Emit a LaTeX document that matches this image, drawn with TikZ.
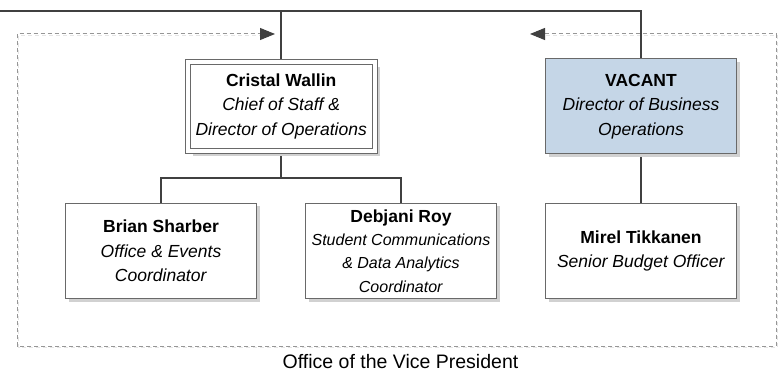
\documentclass[tikz,border=0pt]{standalone}
\usepackage{fontspec}
\setmainfont{Liberation Sans}
\usetikzlibrary{arrows.meta,shadows,backgrounds}
\definecolor{vacblue}{RGB}{197,214,231}
\definecolor{conn}{RGB}{64,64,64}
\definecolor{bord}{RGB}{105,105,105}
\definecolor{dashc}{RGB}{150,150,150}
\begin{document}
\begin{tikzpicture}[x=1pt,y=-1pt,
  box/.style={draw=bord, line width=1pt, fill=white, minimum width=191pt, minimum height=95pt,
    inner sep=0pt, align=center, font=\fontsize{17.5pt}{24.5pt}\selectfont,
    drop shadow={shadow xshift=3pt, shadow yshift=-3pt, fill=black!18, opacity=1}},
  dblbox/.style={box, double=white, double distance=4pt, minimum width=187pt, minimum height=89pt,
    drop shadow={shadow xshift=5.5pt, shadow yshift=-5.5pt, fill=black!18, opacity=1}},
  smallbox/.style={box, font=\fontsize{16pt}{23.3pt}\selectfont},
  conline/.style={draw=conn, line width=2pt},
  frameline/.style={draw=dashc, line width=1pt, dash pattern=on 4pt off 3pt},
  frameshadow/.style={draw=black!10, line width=1pt, dash pattern=on 4pt off 3pt},
  mytip/.tip={Triangle[length=15pt, width=12pt, color=conn, fill=conn]}
]
\useasboundingbox (0,0) rectangle (780,377);

% boxes
\node[dblbox] (cw) at (281.2,106.2) {\textbf{Cristal Wallin}\\\textit{Chief of Staff \&}\\\textit{Director of Operations}};
\node[box, fill=vacblue] (vac) at (641,106.5) {\textbf{VACANT}\\\textit{Director of Business}\\\textit{Operations}};
\node[box] (bs) at (161,251) {\textbf{Brian Sharber}\\\textit{Office \& Events}\\\textit{Coordinator}};
\node[smallbox] (dr) at (401,251) {{\fontsize{17.5pt}{23.3pt}\selectfont\textbf{Debjani Roy}}\\\textit{Student Communications}\\\textit{\& Data Analytics}\\\textit{Coordinator}};
\node[box] (mt) at (641,251) {\textbf{Mirel Tikkanen}\\\textit{Senior Budget Officer}};

\node[font=\fontsize{19.5pt}{22pt}\selectfont, anchor=base, inner sep=0pt] (lbl) at (400.5,368) {Office of the Vice President};

% frame coordinates
\coordinate (L) at (0,11);
\coordinate (fTL) at (17,34);
\coordinate (fBL) at (17,346);
\coordinate (fBR) at (776,346);
\coordinate (fTR) at (776,34);
\coordinate (aL) at (275,34);
\coordinate (aR) at (530,34);
\coordinate (sTL) at (18.5,35.5);
\coordinate (sBL) at (18.5,347.5);
\coordinate (sBR) at (777.5,347.5);
\coordinate (sTR) at (777.5,35.5);
\coordinate (saL) at (262,35.5);
\coordinate (saR) at (546,35.5);

\begin{pgfonlayer}{background}
  % dashed frame with faint shadow
  \draw[frameshadow] (saR) -- (sTR) -- (sBR) -- (sBL) -- (sTL) -- (saL);
  \draw[frameline, {mytip}-{mytip}] (aR) -- (fTR) -- (fBR) -- (fBL) -- (fTL) -- (aL);
  % connectors
  \draw[conline] (L) -| (vac.north);
  \draw[conline] (cw.north |- L) -- (cw.north);
  \draw[conline] (cw.south) -- ++(0,27) -| (bs.north);
  \draw[conline] (cw.south) -- ++(0,27) -| (dr.north);
  \draw[conline] (vac.south) -- (mt.north);
\end{pgfonlayer}
\end{tikzpicture}
\end{document}
